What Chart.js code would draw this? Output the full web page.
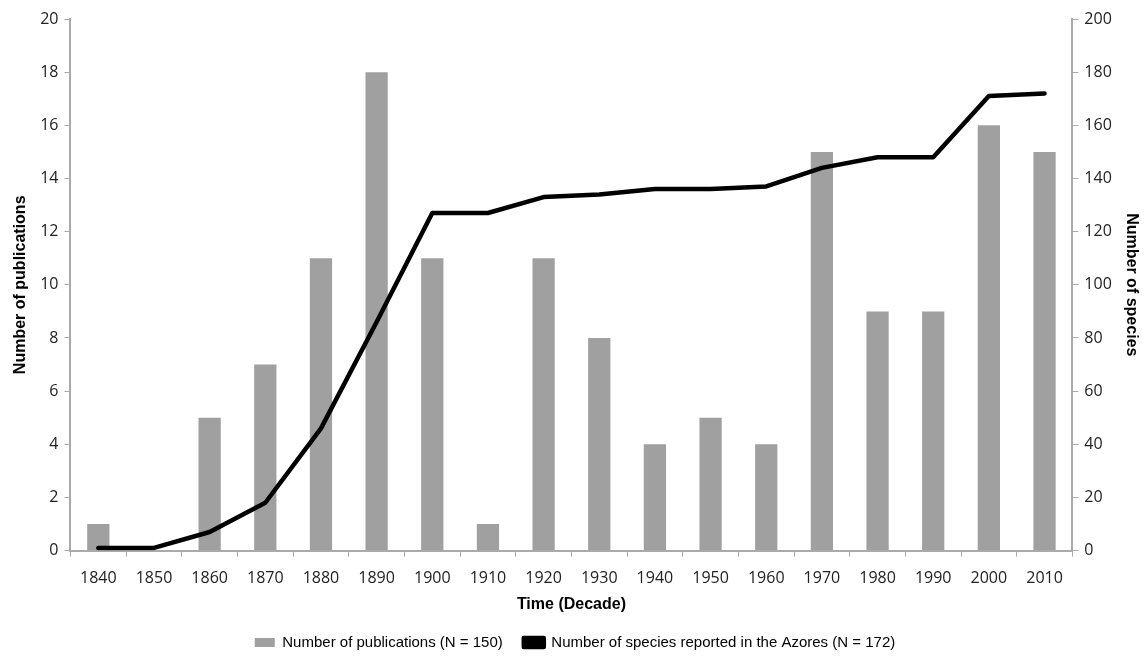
<!DOCTYPE html>
<html>
<head>
<meta charset="utf-8">
<script src="https://cdn.jsdelivr.net/npm/chart.js@4.4.0/dist/chart.umd.min.js"></script>
<style>
  html, body { margin: 0; padding: 0; background: #fff; }
  #wrap { width: 1148px; height: 657px; }
</style>
</head>
<body>
<div id="wrap"><canvas id="chart"></canvas></div>
<script>
const decades = ['1840','1850','1860','1870','1880','1890','1900','1910','1920','1930','1940','1950','1960','1970','1980','1990','2000','2010']
const publications = [1, 0, 5, 7, 11, 18, 11, 1, 11, 8, 4, 5, 4, 15, 9, 9, 16, 15]
const species = [1, 1, 7, 18, 46, 86, 127, 127, 133, 134, 136, 136, 137, 144, 148, 148, 171, 172]

const tickFont = { family: "'Open Sans'", size: 16 }
const titleFont = { family: "'Liberation Sans'", size: 16, weight: 'bold' }

const chart = new Chart(document.querySelector('#chart'), {
  type: 'bar',
  data: {
    labels: decades,
    datasets: [{
      type: 'line',
      label: 'Number of species reported in the Azores (N = 172)',
      data: species,
      yAxisID: 'y1',
      borderColor: '#000',
      backgroundColor: '#000',
      borderWidth: 4.5,
      borderCapStyle: 'round',
      borderJoinStyle: 'round',
      pointRadius: 0,
      tension: 0,
      order: 0
    }, {
      label: 'Number of publications (N = 150)',
      data: publications,
      yAxisID: 'y',
      backgroundColor: '#a0a0a0',
      categoryPercentage: 0.4,
      barPercentage: 1,
      order: 1
    }]
  },
  options: {
    responsive: true,
    maintainAspectRatio: false,
    animation: false,
    layout: { padding: { left: 7, right: 5, top: 19, bottom: 0 } },
    plugins: {
      legend: {
        position: 'bottom',
        reverse: true,
        labels: {
          color: '#000',
          font: { family: "'Liberation Sans'", size: 15 },
          boxWidth: 20,
          boxHeight: 9,
          padding: 21
        }
      },
      tooltip: { enabled: false }
    },
    scales: {
      x: {
        grid: { drawOnChartArea: false, color: '#aaa', tickLength: 6 },
        border: { color: '#aaa', width: 2 },
        ticks: { color: '#222', font: tickFont, maxRotation: 0, padding: 12 },
        title: { display: true, text: 'Time (Decade)', color: '#000', font: titleFont, padding: { top: -5, bottom: 0 } }
      },
      y: {
        position: 'left',
        min: 0, max: 20,
        grid: { drawOnChartArea: false, color: '#aaa', tickLength: 6 },
        border: { color: '#aaa', width: 2 },
        ticks: { stepSize: 2, color: '#222', font: tickFont, padding: 6 },
        title: { display: true, text: 'Number of publications', color: '#000', font: titleFont, padding: { bottom: 4 } }
      },
      y1: {
        position: 'right',
        min: 0, max: 200,
        grid: { drawOnChartArea: false, color: '#aaa', tickLength: 6 },
        border: { color: '#aaa', width: 2 },
        ticks: { stepSize: 20, color: '#222', font: tickFont, padding: 6 },
        title: { display: true, text: 'Number of species', color: '#000', font: titleFont, padding: { top: 2 } }
      }
    }
  }
})

// legend padding is also used above/below the row; fix its height so the row sits lower
const legendFit = chart.legend.fit
chart.legend.fit = function () {
  legendFit.call(this)
  this.height = 43
}
chart.update()
</script>
</body>
</html>
